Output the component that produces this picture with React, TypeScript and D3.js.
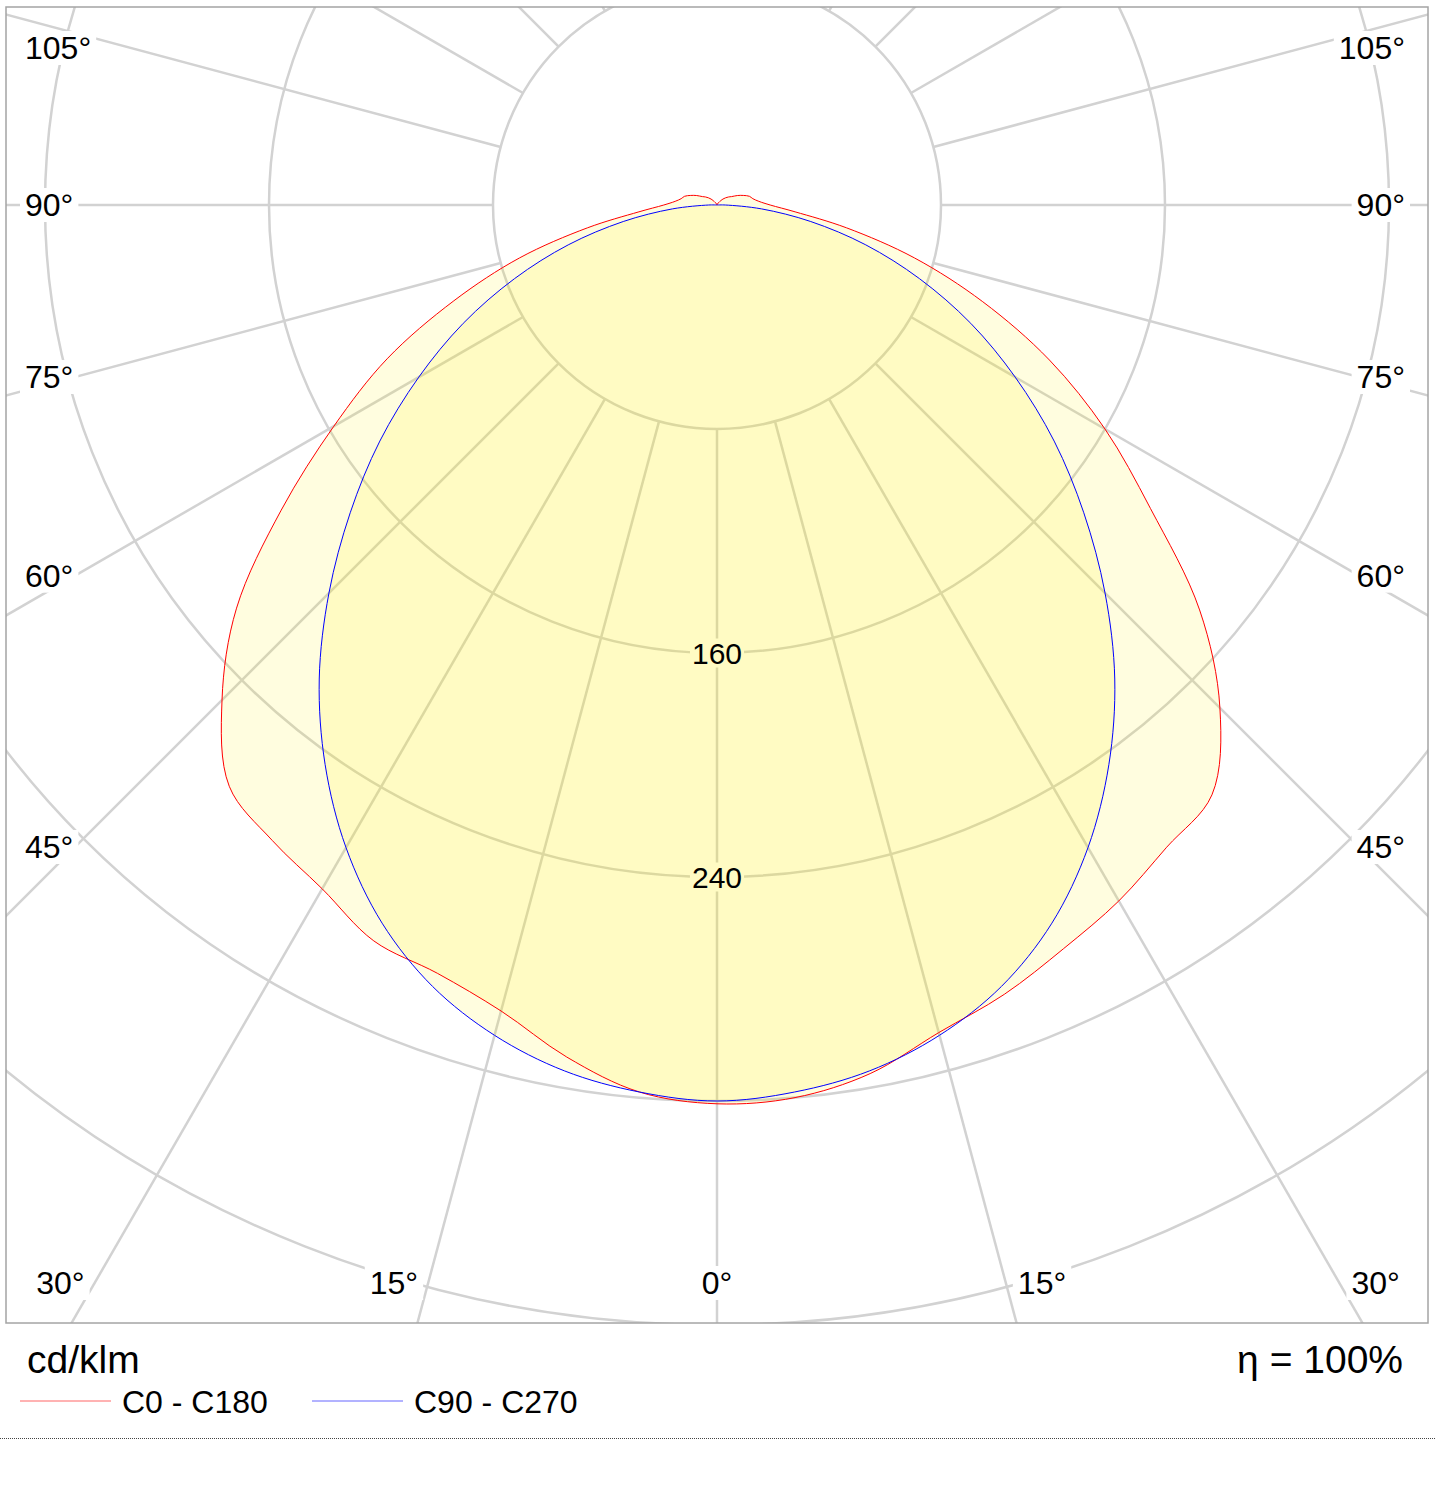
import React, { useRef, useEffect } from "react";
import * as d3 from "d3";

const width = 1435;
const height = 1495;
const frame = { left: 6, top: 7, right: 1428, bottom: 1323 };
const cx = 717;
const cy = 205;

// gamma in degrees, 0 = straight down (nadir), 180 = straight up
const gammaDeg = [
  0, 5, 10, 15, 20, 25, 30, 35, 40, 45, 50, 55, 60, 65, 70, 75, 80, 85, 90,
  95, 100, 105, 110, 115, 120, 125, 130, 135, 140, 145, 150, 155, 160, 165, 170, 175, 180,
];

// cd/klm
const c0Values = [
  321, 320, 315, 306, 300, 293, 287, 280, 275, 254, 225, 189, 160, 131, 101, 73, 47, 28, 19,
  15, 13, 12, 10, 8, 6, 5, 4, 3, 2, 1, 1, 0, 0, 0, 0, 0, 0,
];
const c180Values = [
  321, 318, 309, 298, 292, 290, 282, 277, 271, 250, 224, 190, 158, 130, 100, 73, 47, 28, 19,
  15, 13, 12, 10, 8, 6, 5, 4, 3, 2, 1, 1, 0, 0, 0, 0, 0, 0,
];
const c90Values = [
  320, 318, 314, 307, 297, 283, 265, 244, 221, 196, 171, 147, 123, 100, 77, 55, 34, 16, 3,
  0, 0, 0, 0, 0, 0, 0, 0, 0, 0, 0, 0, 0, 0, 0, 0, 0, 0,
];
const c270Values = [
  320, 318, 314, 307, 297, 283, 265, 244, 221, 196, 171, 147, 123, 100, 77, 55, 34, 16, 3,
  0, 0, 0, 0, 0, 0, 0, 0, 0, 0, 0, 0, 0, 0, 0, 0, 0, 0,
];

const ringValues = [80, 160, 240, 320, 400, 480];
const ringLabelValues = [160, 240];
const angleLabels = [0, 15, 30, 45, 60, 75, 90, 105];
const unitLabel = "cd/klm";
const efficiencyLabel = "η = 100%";
const seriesNames = ["C0 - C180", "C90 - C270"];
const seriesColors = ["#ff0000", "#0000ff"];

const gridColor = "#d2d2d2";
const fillColor = "#fff200";
const font = "'Liberation Sans', Arial, sans-serif";

const rad = (d: number) => (d * Math.PI) / 180;

const App: React.FC = () => {
  const svgRef = useRef<SVGSVGElement | null>(null);

  useEffect(() => {
    if (!svgRef.current) return;
    const svg = d3.select(svgRef.current);
    svg.selectAll("*").remove();

    const r = d3.scaleLinear().domain([0, 80]).range([0, 224]);

    svg
      .append("defs")
      .append("clipPath")
      .attr("id", "frameClip")
      .append("rect")
      .attr("x", frame.left)
      .attr("y", frame.top)
      .attr("width", frame.right - frame.left)
      .attr("height", frame.bottom - frame.top);

    const plot = svg.append("g").attr("clip-path", "url(#frameClip)");
    const g = plot.append("g").attr("transform", `translate(${cx},${cy})`);

    // rings
    g.selectAll("circle.ring")
      .data(ringValues)
      .join("circle")
      .attr("class", "ring")
      .attr("r", (d) => r(d))
      .attr("fill", "none")
      .attr("stroke", gridColor)
      .attr("stroke-width", 2.5);

    // spokes every 15 degrees, starting at the first ring
    const spokes = d3.range(0, 360, 15);
    const rMax = r(ringValues[ringValues.length - 1] + 80);
    g.selectAll("line.spoke")
      .data(spokes)
      .join("line")
      .attr("class", "spoke")
      .attr("x1", (d) => r(ringValues[0]) * Math.sin(rad(d)))
      .attr("y1", (d) => r(ringValues[0]) * Math.cos(rad(d)))
      .attr("x2", (d) => rMax * Math.sin(rad(d)))
      .attr("y2", (d) => rMax * Math.cos(rad(d)))
      .attr("stroke", gridColor)
      .attr("stroke-width", 2.5);

    // ring label backgrounds go under the fills, text on top
    const ringBg = g.append("g");

    // closed curve: right half from one C-plane, left half from the opposite one
    const loop = (right: number[], left: number[]) => {
      const pts: [number, number][] = [];
      for (let i = gammaDeg.length - 1; i >= 0; i--) pts.push([Math.PI - rad(gammaDeg[i]), right[i]]);
      for (let i = 1; i < gammaDeg.length - 1; i++) pts.push([Math.PI + rad(gammaDeg[i]), left[i]]);
      return pts;
    };
    const radial = d3
      .lineRadial<[number, number]>()
      .angle((d) => d[0])
      .radius((d) => r(d[1]))
      .curve(d3.curveCatmullRomClosed.alpha(0.5));

    const series = [loop(c0Values, c180Values), loop(c90Values, c270Values)];

    series.forEach((pts) => {
      g.append("path")
        .datum(pts)
        .attr("d", radial)
        .attr("fill", fillColor)
        .attr("fill-opacity", 0.125)
        .attr("stroke", "none");
    });
    series.forEach((pts, i) => {
      g.append("path")
        .datum(pts)
        .attr("d", radial)
        .attr("fill", "none")
        .attr("stroke", seriesColors[i])
        .attr("stroke-width", 1);
    });

    // ring value labels
    ringLabelValues.forEach((v) => {
      const t = g
        .append("text")
        .attr("x", 0)
        .attr("y", r(v))
        .attr("text-anchor", "middle")
        .attr("dominant-baseline", "central")
        .attr("font-family", font)
        .attr("font-size", 30)
        .attr("fill", "#000")
        .text(String(v));
      const b = (t.node() as SVGTextElement).getBBox();
      ringBg
        .append("rect")
        .attr("x", b.x - 2)
        .attr("y", b.y + 2)
        .attr("width", b.width + 4)
        .attr("height", b.height - 4)
        .attr("fill", "#fff");
    });

    // angle labels on both sides
    const labelLayer = svg.append("g");
    const sideColumn = 75;
    const labelTop = 48;
    const labelBottom = 1283;
    const addLabel = (x: number, y: number, anchor: string, text: string) => {
      const grp = labelLayer.append("g");
      const t = grp
        .append("text")
        .attr("x", x)
        .attr("y", y)
        .attr("text-anchor", anchor)
        .attr("dominant-baseline", "central")
        .attr("font-family", font)
        .attr("font-size", 32)
        .attr("fill", "#000")
        .text(text);
      const b = (t.node() as SVGTextElement).getBBox();
      grp
        .insert("rect", "text")
        .attr("x", b.x - 5)
        .attr("y", b.y + 1)
        .attr("width", b.width + 10)
        .attr("height", b.height - 2)
        .attr("fill", "#fff");
    };

    angleLabels.forEach((a) => {
      const text = `${a}°`;
      if (a === 0) {
        addLabel(cx, labelBottom, "middle", text);
        return;
      }
      const s = Math.sin(rad(a));
      const c = Math.cos(rad(a));
      const y = cy + ((cx - sideColumn) / s) * c;
      if (y > labelBottom) {
        const dx = ((labelBottom - cy) / c) * s;
        addLabel(cx - dx - 10, labelBottom, "end", text);
        addLabel(cx + dx + 12, labelBottom, "start", text);
      } else {
        const yy = Math.max(labelTop, y);
        addLabel(25, yy, "start", text);
        addLabel(1405, yy, "end", text);
      }
    });

    // frame
    svg
      .append("rect")
      .attr("x", frame.left)
      .attr("y", frame.top)
      .attr("width", frame.right - frame.left)
      .attr("height", frame.bottom - frame.top)
      .attr("fill", "none")
      .attr("stroke", "#a4a4a4")
      .attr("stroke-width", 1.5);

    // legend
    svg
      .append("text")
      .attr("x", 27)
      .attr("y", 1373)
      .attr("font-family", font)
      .attr("font-size", 39)
      .text(unitLabel);
    svg
      .append("text")
      .attr("x", 1403)
      .attr("y", 1373)
      .attr("text-anchor", "end")
      .attr("font-family", font)
      .attr("font-size", 39)
      .text(efficiencyLabel);

    const legendX = [20, 312];
    seriesNames.forEach((name, i) => {
      svg
        .append("line")
        .attr("x1", legendX[i])
        .attr("x2", legendX[i] + 91)
        .attr("y1", 1401)
        .attr("y2", 1401)
        .attr("stroke", seriesColors[i])
        .attr("stroke-opacity", 0.6)
        .attr("stroke-width", 1);
      svg
        .append("text")
        .attr("x", legendX[i] + 102)
        .attr("y", 1413)
        .attr("font-family", font)
        .attr("font-size", 32)
        .text(name);
    });

    svg
      .append("line")
      .attr("x1", 0)
      .attr("x2", width)
      .attr("y1", 1438.5)
      .attr("y2", 1438.5)
      .attr("stroke", "#444")
      .attr("stroke-width", 1)
      .attr("stroke-dasharray", "1,1");
  }, []);

  return (
    <svg
      ref={svgRef}
      width={width}
      height={height}
      style={{ position: "absolute", left: 0, top: 0, background: "#fff" }}
    />
  );
};

export default App;
